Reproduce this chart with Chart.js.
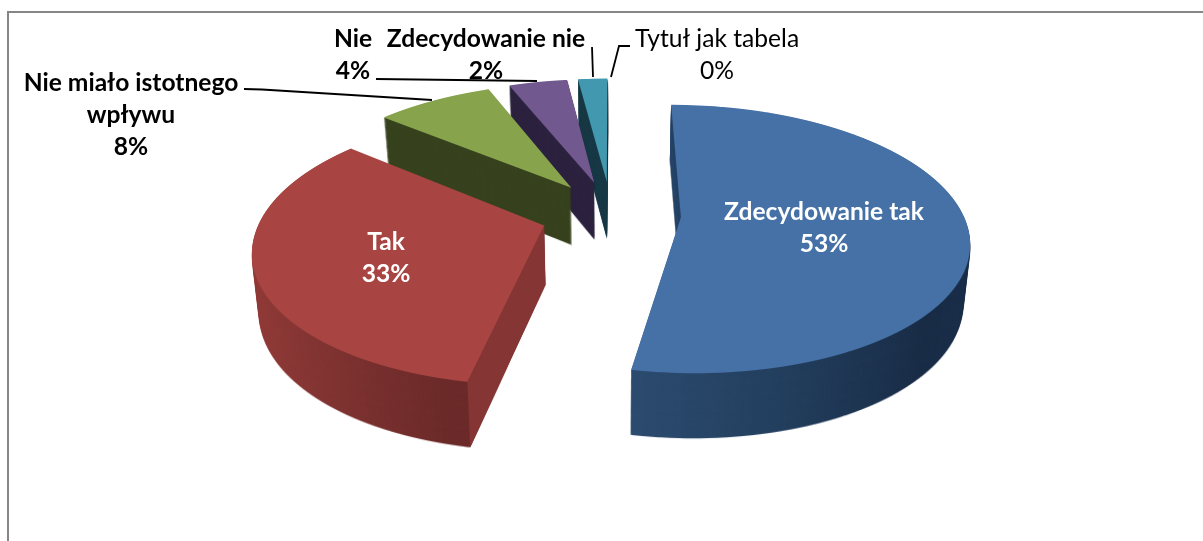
<!DOCTYPE html>
<html>
<head>
<meta charset="utf-8">
<style>
  html, body { margin: 0; padding: 0; background: #fff; }
  canvas { display: block; }
</style>
<script src="https://cdn.jsdelivr.net/npm/chart.js@4"></script>
</head>
<body>
<canvas id="pie" width="1203" height="541"></canvas>
<script>
// --- Data ---
const categories = ['Zdecydowanie tak', 'Tak', 'Nie miało istotnego wpływu', 'Nie', 'Zdecydowanie nie', 'Tytuł jak tabela'];
const shares = [53, 33, 8, 4, 2, 0];

// --- Slice styling ---
const faceColors = ['#4571a6', '#a84543', '#87a34c', '#71588f', '#4198af', '#d98b44'];
const wallColors = ['#243d5c', '#7c3230', '#38431f', '#2e2440', '#1a3b47', '#7a4a20'];
const cutColors = [null, '#853534', null, null, null, null];
const drawOrder = [5, 4, 3, 2, 0, 1];

// --- Perspective of the tilted pie (fitted against the picture) ---
const W = 1203, H = 541;
const vanish = { x: 611, y: 214 };  // screen position of the pie's own centre
const tilt = 0.48;                  // vertical squash
const persp = 0.0006;               // front of the pie is larger than the back
const stretch = 1.045;              // slices are a bit wider than they are deep
const pieRadius = 270;
const explode = 70;
const wallSteps = 60;               // number of copies stacked for the side walls

// --- Labels ---
const labelBlocks = [
  { lines: ['Zdecydowanie tak', '53%'], x: 824, y: 212, color: '#fff', weight: 'bold' },
  { lines: ['Tak', '33%'], x: 386, y: 242, color: '#fff', weight: 'bold' },
  { lines: ['Nie miało istotnego', 'wpływu', '8%'], x: 131, y: 83, color: '#000', weight: 'bold' },
  { lines: ['Nie', '4%'], x: 353, y: 39, color: '#000', weight: 'bold' },
  { lines: ['Zdecydowanie nie', '2%'], x: 486, y: 39, color: '#000', weight: 'bold' },
  { lines: ['Tytuł jak tabela', '0%'], x: 717, y: 39, color: '#000', weight: 'normal' }
];
const leaderLines = [
  [[244, 89], [262, 89.5], [432, 100]],
  [[376, 79], [537, 81]],
  [[592, 47], [593, 77]],
  [[630, 46], [619, 46], [611, 77]]
];
const lineHeight = 32;

function toScreen(X, Y) {
  const g = 1 / (1 - persp * Y);
  return { x: vanish.x + X * g, y: vanish.y + tilt * Y * g };
}

function sliceCentre(arc) {
  const mid = (arc.startAngle + arc.endAngle) / 2;
  return { X: Math.cos(mid) * explode, Y: Math.sin(mid) * explode };
}

// how far the bottom of the wall lies below a top point, t = 1 is the full height
function wallLayer(t) {
  const my = 1 + t * 0.042;
  const mx = 1 - t * 0.02;
  return { mx, my, dx: vanish.x * (1 - mx), dy: t * (57 - 180 * 0.042) };
}

// A plane perspective cannot be set on a canvas, so the arc is drawn row by row,
// each screen row with the affine transform valid for that row
function drawArcPerspective(ctx, arc, fill) {
  const c = sliceCentre(arc);
  const base = arc.options;
  arc.options = Object.assign({}, base, { backgroundColor: fill });
  const top = Math.floor(toScreen(0, c.Y - pieRadius).y) - 1;
  const bottom = Math.ceil(toScreen(0, c.Y + pieRadius).y) + 1;
  for (let y = top; y <= bottom; y++) {
    const D = y + 0.5 - vanish.y;
    const Y = D / (tilt + persp * D);
    const g = 1 / (1 - persp * Y);
    ctx.save();
    ctx.beginPath();
    ctx.rect(0, y, W, 1);
    ctx.clip();
    const sy = tilt * g * g;
    ctx.setTransform(g * stretch, 0, 0, sy,
      vanish.x + g * (c.X - stretch * arc.x),
      y + 0.5 + sy * (c.Y - Y - arc.y));
    arc.draw(ctx);
    ctx.restore();
  }
  arc.options = base;
}

function wallFill(ctx, arc, i) {
  if (i === 0) {
    const g = ctx.createLinearGradient(arc.x - 50, 0, arc.x + 288, 0);
    g.addColorStop(0, '#2d4c70');
    g.addColorStop(0.35, '#24405f');
    g.addColorStop(0.75, '#1a2d47');
    g.addColorStop(1, '#1d334f');
    return g;
  }
  if (i === 1) {
    const g = ctx.createLinearGradient(arc.x - 292, 0, arc.x - 70, 0);
    g.addColorStop(0, '#9a403d');
    g.addColorStop(1, '#6c2b2a');
    return g;
  }
  return wallColors[i];
}

function drawWalls(ctx, arc, i) {
  const off = document.createElement('canvas');
  off.width = W;
  off.height = H;
  const offCtx = off.getContext('2d');
  drawArcPerspective(offCtx, arc, wallFill(offCtx, arc, i));
  for (let k = wallSteps; k >= 1; k--) {
    const l = wallLayer(k / wallSteps);
    ctx.drawImage(off, l.dx, l.dy, W * l.mx, H * l.my);
  }
}

function drawCutFace(ctx, arc, i) {
  const c = sliceCentre(arc);
  const apex = toScreen(c.X, c.Y);
  const a = arc.startAngle;
  const Y = c.Y + Math.sin(a) * pieRadius;
  const g = 1 / (1 - persp * Y);
  const rim = { x: vanish.x + g * (c.X + stretch * Math.cos(a) * pieRadius), y: vanish.y + tilt * Y * g };
  const l = wallLayer(1);
  ctx.fillStyle = cutColors[i];
  ctx.beginPath();
  ctx.moveTo(apex.x, apex.y);
  ctx.lineTo(rim.x, rim.y);
  ctx.lineTo(rim.x * l.mx + l.dx, rim.y * l.my + l.dy);
  ctx.lineTo(apex.x * l.mx + l.dx, apex.y * l.my + l.dy);
  ctx.closePath();
  ctx.fill();
}

function drawLeaders(ctx) {
  ctx.save();
  ctx.strokeStyle = '#000';
  ctx.lineWidth = 1.8;
  leaderLines.forEach(pts => {
    ctx.beginPath();
    pts.forEach((p, n) => n ? ctx.lineTo(p[0], p[1]) : ctx.moveTo(p[0], p[1]));
    ctx.stroke();
  });
  ctx.restore();
}

function drawLabels(ctx) {
  ctx.save();
  ctx.textAlign = 'center';
  ctx.textBaseline = 'middle';
  labelBlocks.forEach(b => {
    ctx.font = b.weight + ' 24.6px Lato';
    ctx.fillStyle = b.color;
    b.lines.forEach((line, n) => ctx.fillText(line, b.x, b.y + n * lineHeight));
  });
  ctx.restore();
}

const pie3dPlugin = {
  id: 'pie3d',
  beforeDraw(chart) {
    // chart frame, only top and left survive in the crop
    const ctx = chart.ctx;
    ctx.save();
    ctx.strokeStyle = '#868686';
    ctx.lineWidth = 2;
    ctx.beginPath();
    ctx.moveTo(8, H);
    ctx.lineTo(8, 12);
    ctx.lineTo(W, 12);
    ctx.stroke();
    ctx.restore();
  },
  beforeDatasetDraw() {
    return false; // drawn below instead
  },
  afterDatasetsDraw(chart) {
    const ctx = chart.ctx;
    const arcs = chart.getDatasetMeta(0).data;
    drawOrder.forEach(i => {
      const arc = arcs[i];
      if (arc.circumference === 0) return;
      drawWalls(ctx, arc, i);
      if (cutColors[i]) drawCutFace(ctx, arc, i);
      drawArcPerspective(ctx, arc, faceColors[i]);
    });
    drawLeaders(ctx);
    drawLabels(ctx);
  }
};

new Chart(document.getElementById('pie'), {
  type: 'pie',
  data: {
    labels: categories,
    datasets: [{
      data: shares,
      backgroundColor: faceColors,
      borderWidth: 0
    }]
  },
  options: {
    responsive: false,
    animation: false,
    radius: pieRadius,
    plugins: {
      legend: { display: false },
      tooltip: { enabled: false }
    }
  },
  plugins: [pie3dPlugin]
});
</script>
</body>
</html>
